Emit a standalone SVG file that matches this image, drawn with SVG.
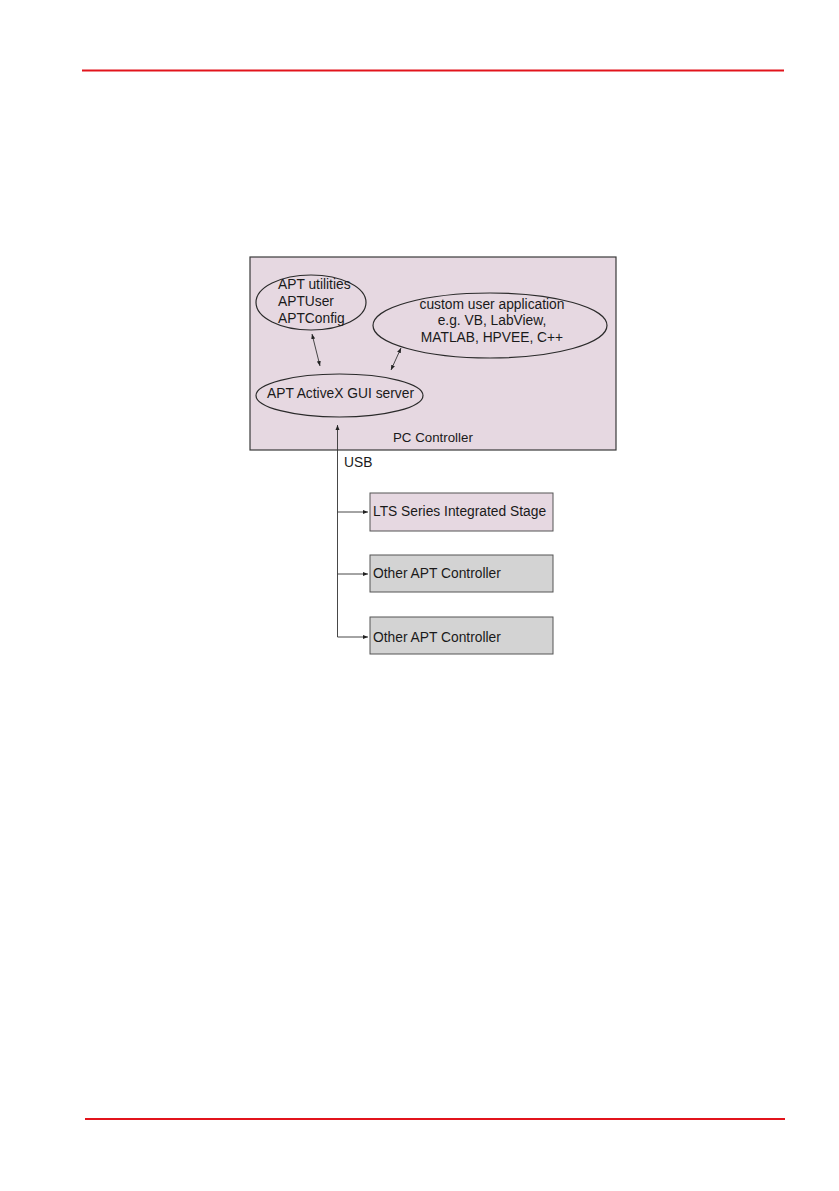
<svg xmlns="http://www.w3.org/2000/svg" width="839" height="1191" viewBox="0 0 839 1191">
<defs>
<style>
.t{font-family:"Liberation Sans",Arial,sans-serif;font-size:13.8px;fill:#1a1a1a}
.ell{fill:none;stroke:#2a2a2a;stroke-width:1.2}
.ln{stroke:#333;stroke-width:0.9;fill:none}
.red{stroke:#e2141c;stroke-width:1.8}
</style>
<marker id="ah" viewBox="0 0 10 10" refX="10" refY="5" markerWidth="5" markerHeight="5" orient="auto-start-reverse" markerUnits="userSpaceOnUse">
<path d="M0,1 L10,5 L0,9 z" fill="#222"/>
</marker>
</defs>
<line class="red" x1="82" y1="70.5" x2="784" y2="70.5"/>
<line class="red" x1="85" y1="1119" x2="785" y2="1119"/>
<g id="pc-controller">
<rect x="250" y="257" width="366" height="193" fill="#e6d8e1" stroke="#3a3a3a" stroke-width="1.2"/>
<text class="t" x="393" y="442" style="font-size:13.3px">PC Controller</text>
</g>
<g id="apt-utilities">
<ellipse class="ell" cx="311" cy="302.5" rx="55" ry="27.5"/>
<text class="t" x="278" y="289">APT utilities</text>
<text class="t" x="278" y="306">APTUser</text>
<text class="t" x="278" y="323">APTConfig</text>
</g>
<g id="custom-app">
<ellipse class="ell" cx="490" cy="325.5" rx="117" ry="32.5"/>
<text class="t" x="492" y="309" text-anchor="middle">custom user application</text>
<text class="t" x="492" y="325" text-anchor="middle">e.g. VB, LabView,</text>
<text class="t" x="492" y="342" text-anchor="middle">MATLAB, HPVEE, C++</text>
</g>
<g id="activex-server">
<ellipse class="ell" cx="339.5" cy="395.5" rx="83.5" ry="21.5"/>
<text class="t" x="340.5" y="398" text-anchor="middle" textLength="147">APT ActiveX GUI server</text>
</g>
<g id="lts-stage">
<rect x="370" y="493" width="183" height="38" fill="#e6d8e1" stroke="#555" stroke-width="1"/>
<text class="t" x="373" y="516">LTS Series Integrated Stage</text>
</g>
<g id="other-apt-1">
<rect x="370" y="555" width="183" height="37" fill="#d3d3d3" stroke="#555" stroke-width="1"/>
<text class="t" x="373" y="578">Other APT Controller</text>
</g>
<g id="other-apt-2">
<rect x="370" y="617" width="183" height="37" fill="#d3d3d3" stroke="#555" stroke-width="1"/>
<text class="t" x="373" y="642">Other APT Controller</text>
</g>
<g id="connectors">
<line class="ln" x1="312" y1="334" x2="320" y2="366" marker-start="url(#ah)" marker-end="url(#ah)"/>
<line class="ln" x1="401" y1="348" x2="391" y2="370" marker-start="url(#ah)" marker-end="url(#ah)"/>
<line class="ln" x1="337.5" y1="637" x2="337.5" y2="425" marker-end="url(#ah)"/>
<line class="ln" x1="337.5" y1="512" x2="368" y2="512" marker-end="url(#ah)"/>
<line class="ln" x1="337.5" y1="574" x2="368" y2="574" marker-end="url(#ah)"/>
<line class="ln" x1="337.5" y1="637" x2="368" y2="637" marker-end="url(#ah)"/>
<text class="t" x="344" y="467">USB</text>
</g>
</svg>
